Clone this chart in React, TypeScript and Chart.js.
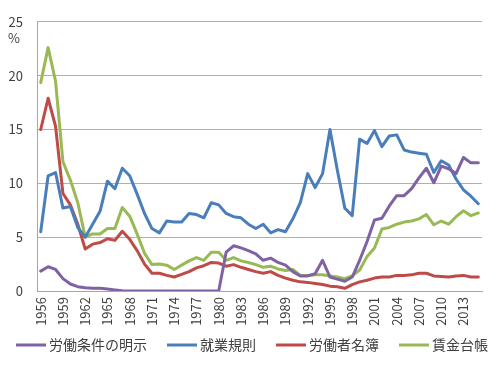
import React, { useEffect, useRef } from "react";
import { Chart, registerables } from "chart.js";

Chart.register(...registerables);

const years: string[] = [
  "1956","1957","1958","1959","1960","1961","1962","1963","1964","1965",
  "1966","1967","1968","1969","1970","1971","1972","1973","1974","1975",
  "1976","1977","1978","1979","1980","1981","1982","1983","1984","1985",
  "1986","1987","1988","1989","1990","1991","1992","1993","1994","1995",
  "1996","1997","1998","1999","2000","2001","2002","2003","2004","2005",
  "2006","2007","2008","2009","2010","2011","2012","2013","2014","2015",
];

const seriesNames: string[] = ["労働条件の明示", "就業規則", "労働者名簿", "賃金台帳"];

const meiji: number[] = [
  1.85, 2.25, 2.0, 1.15, 0.65, 0.4, 0.3, 0.25, 0.25, 0.18,
  0.1, 0.03, 0, 0, 0, 0, 0, 0, 0, 0,
  0, 0, 0, 0, 0, 3.6, 4.2, 4.0, 3.75, 3.45,
  2.85, 3.05, 2.65, 2.4, 1.8, 1.4, 1.4, 1.6, 2.85, 1.3,
  1.1, 0.9, 1.3, 2.85, 4.6, 6.6, 6.75, 7.9, 8.85, 8.85,
  9.5, 10.5, 11.4, 10.05, 11.6, 11.35, 10.9, 12.4, 11.9, 11.9,
];

const shugyo: number[] = [
  5.5, 10.7, 11.0, 7.7, 7.85, 5.9, 5.0, 6.2, 7.4, 10.2,
  9.5, 11.4, 10.7, 9.0, 7.2, 5.8, 5.4, 6.5, 6.4, 6.4,
  7.2, 7.1, 6.8, 8.2, 8.0, 7.2, 6.9, 6.8, 6.2, 5.8,
  6.2, 5.4, 5.7, 5.5, 6.7, 8.2, 10.9, 9.6, 10.9, 15.0,
  11.2, 7.7, 7.0, 14.1, 13.7, 14.9, 13.4, 14.4, 14.5, 13.1,
  12.9, 12.8, 12.7, 11.0, 12.1, 11.7, 10.4, 9.4, 8.8, 8.1,
];

const meibo: number[] = [
  15.0, 17.9, 15.3, 9.05, 8.0, 6.2, 3.9, 4.35, 4.5, 4.85,
  4.7, 5.55, 4.8, 3.75, 2.5, 1.65, 1.65, 1.45, 1.3, 1.55,
  1.8, 2.15, 2.35, 2.65, 2.6, 2.3, 2.45, 2.2, 2.0, 1.8,
  1.65, 1.8, 1.45, 1.2, 1.0, 0.85, 0.8, 0.7, 0.6, 0.45,
  0.4, 0.25, 0.6, 0.85, 1.0, 1.2, 1.3, 1.3, 1.45, 1.45,
  1.5, 1.65, 1.65, 1.4, 1.35, 1.3, 1.4, 1.45, 1.3, 1.3,
];

const chingin: number[] = [
  19.35, 22.6, 19.5, 12.0, 10.3, 8.2, 5.0, 5.3, 5.3, 5.8,
  5.8, 7.75, 6.95, 5.3, 3.5, 2.45, 2.5, 2.4, 2.0, 2.4,
  2.8, 3.1, 2.85, 3.6, 3.6, 2.85, 3.1, 2.8, 2.65, 2.45,
  2.2, 2.3, 2.05, 1.9, 2.0, 1.45, 1.45, 1.5, 1.5, 1.4,
  1.3, 1.15, 1.4, 1.95, 3.2, 4.0, 5.75, 5.9, 6.2, 6.4,
  6.5, 6.7, 7.1, 6.15, 6.5, 6.2, 6.9, 7.45, 7.0, 7.25,
];

const colors: string[] = ["#7F62A3", "#4A7EBB", "#BE4B48", "#98B954"];
const yTicks: number[] = [0, 5, 10, 15, 20, 25];
const unitLabel = "%";
const FONT = "'Noto Sans CJK JP', 'Noto Sans', sans-serif";

export default function App() {
  const ref = useRef<HTMLCanvasElement | null>(null);

  useEffect(() => {
    document.body.style.margin = "0";
    const canvas = ref.current;
    if (!canvas) return;
    const allSeries = [meiji, shugyo, meibo, chingin];

    const unitPlugin = {
      id: "unitLabel",
      afterDraw(chart: any) {
        const ctx = chart.ctx;
        ctx.save();
        ctx.font = `13px ${FONT}`;
        ctx.fillStyle = "#404040";
        ctx.textAlign = "center";
        ctx.textBaseline = "middle";
        ctx.fillText(unitLabel, 14, 38);
        ctx.restore();
      },
    };

    const legendPlugin = {
      id: "customLegend",
      afterDraw(chart: any) {
        const ctx = chart.ctx;
        ctx.save();
        ctx.font = `14px ${FONT}`;
        const lineW = 30;
        const gap = 3;
        const itemGap = 20;
        const widths = seriesNames.map((n) => ctx.measureText(n).width);
        const total =
          widths.reduce((a: number, w: number) => a + lineW + gap + w, 0) +
          itemGap * (seriesNames.length - 1);
        let x = (chart.width - total) / 2 + 2;
        const y = chart.chartArea.bottom + 54;
        seriesNames.forEach((n, i) => {
          ctx.strokeStyle = colors[i];
          ctx.lineWidth = 3;
          ctx.lineCap = "butt";
          ctx.beginPath();
          ctx.moveTo(x, y);
          ctx.lineTo(x + lineW, y);
          ctx.stroke();
          ctx.fillStyle = "#404040";
          ctx.textAlign = "left";
          ctx.textBaseline = "middle";
          ctx.fillText(n, x + lineW + gap, y);
          x += lineW + gap + widths[i] + itemGap;
        });
        ctx.restore();
      },
    };

    const chart = new Chart(canvas, {
      type: "line",
      data: {
        labels: years,
        datasets: allSeries.map((d, i) => ({
          label: seriesNames[i],
          data: d,
          borderColor: colors[i],
          backgroundColor: colors[i],
          borderWidth: 3,
          pointRadius: 0,
          tension: 0,
          borderJoinStyle: "round" as const,
          borderCapStyle: "round" as const,
        })),
      },
      options: {
        responsive: false,
        animation: false,
        layout: { padding: { top: 10, right: 10, left: 0, bottom: 37 } },
        plugins: {
          tooltip: { enabled: false },
          legend: { display: false },
        },
        scales: {
          x: {
            type: "category",
            offset: true,
            grid: { display: false, drawTicks: false },
            border: { display: true, color: "#A6A6A6", width: 1 },
            ticks: {
              autoSkip: false,
              minRotation: 90,
              maxRotation: 90,
              padding: 6,
              color: "#404040",
              font: { size: 13, family: FONT },
              callback: (_v: any, idx: number) => (idx % 3 === 0 ? years[idx] : ""),
            },
            afterFit: (s: any) => {
              s.height = 42;
            },
          },
          y: {
            min: 0,
            max: 25,
            afterBuildTicks: (s: any) => {
              s.ticks = yTicks.map((v) => ({ value: v }));
            },
            grid: { color: "#B0B0B0", lineWidth: 1, drawTicks: false },
            border: { display: true, color: "#A6A6A6", width: 1 },
            ticks: {
              padding: 14,
              color: "#404040",
              font: { size: 13, family: FONT },
            },
            afterFit: (s: any) => {
              s.width = 37;
            },
          },
        },
      },
      plugins: [unitPlugin, legendPlugin],
    });
    return () => chart.destroy();
  }, []);

  return (
    <div style={{ width: 500, height: 370 }}>
      <canvas ref={ref} width={500} height={370} />
    </div>
  );
}
